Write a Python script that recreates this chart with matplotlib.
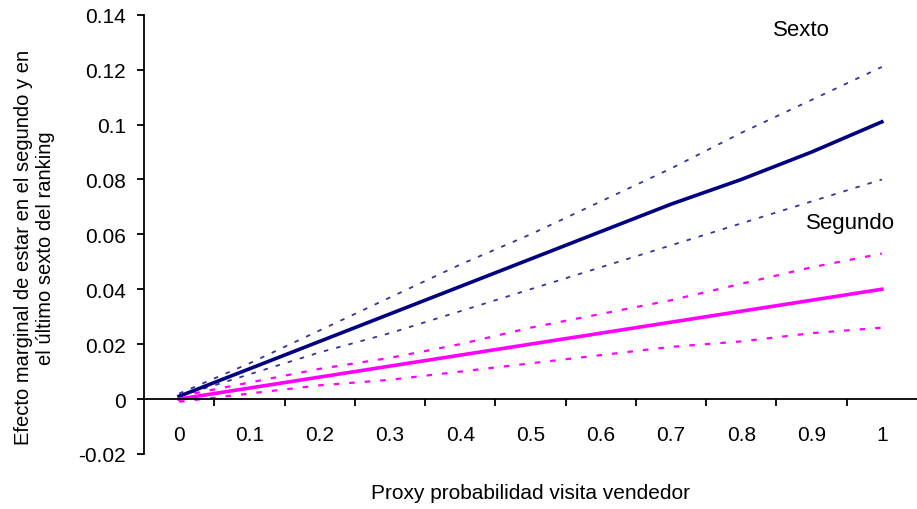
import numpy as np
import matplotlib.pyplot as plt

plt.rcParams['font.family'] = ['Liberation Sans', 'DejaVu Sans']

categorias = ['0', '0.1', '0.2', '0.3', '0.4', '0.5', '0.6', '0.7', '0.8', '0.9', '1']

# efecto marginal del último sexto y bandas de confianza
sexto = [0.001, 0.011, 0.021, 0.031, 0.041, 0.051, 0.061, 0.071, 0.080, 0.090, 0.101]
sexto_sup = [0.002, 0.013, 0.025, 0.037, 0.049, 0.060, 0.072, 0.084, 0.097, 0.109, 0.121]
sexto_inf = [0.001, 0.009, 0.017, 0.024, 0.032, 0.040, 0.048, 0.056, 0.064, 0.072, 0.080]

# efecto marginal del segundo sexto y bandas de confianza
segundo = [0.000, 0.004, 0.008, 0.012, 0.016, 0.020, 0.024, 0.028, 0.032, 0.036, 0.040]
segundo_sup = [0.001, 0.006, 0.011, 0.015, 0.020, 0.026, 0.031, 0.036, 0.042, 0.048, 0.053]
segundo_inf = [-0.001, 0.002, 0.005, 0.007, 0.010, 0.013, 0.016, 0.019, 0.021, 0.024, 0.026]

x = np.arange(len(categorias))

fig = plt.figure(figsize=(9.17, 5.10), dpi=100)
ax = fig.add_axes([0.157, 0.108, 0.843, 0.861])

punteado = (0, (2.5, 4.5))
ax.plot(x, sexto_sup, color='#333399', lw=1.3, linestyle=punteado)
ax.plot(x, sexto_inf, color='#333399', lw=1.3, linestyle=punteado)
ax.plot(x, segundo_sup, color='#FF00FF', lw=1.6, linestyle=punteado)
ax.plot(x, segundo_inf, color='#FF00FF', lw=1.6, linestyle=punteado)
ax.plot(x, sexto, color='#000080', lw=2.6)
ax.plot(x, segundo, color='#FF00FF', lw=2.6)

ax.set_xlim(-0.5, len(categorias) - 0.5)
ax.set_ylim(-0.02, 0.14)
ax.set_yticks(np.arange(-0.02, 0.141, 0.02))
ax.set_yticklabels(['-0.02', '0', '0.02', '0.04', '0.06', '0.08', '0.1', '0.12', '0.14'])

ax.spines['top'].set_visible(False)
ax.spines['right'].set_visible(False)
ax.spines['bottom'].set_position(('data', 0))
ax.spines['left'].set_linewidth(1.3)
ax.spines['bottom'].set_linewidth(1.3)

ax.set_xticks(x)
ax.set_xticklabels(categorias)
ax.set_xticks(x[:-1] + 0.5, minor=True)
ax.tick_params(axis='x', which='major', length=0, pad=19, labelsize=15)
ax.tick_params(axis='x', which='minor', length=5, width=1.3, direction='out')
ax.tick_params(axis='y', length=5, width=1.3, direction='out', labelsize=15, pad=8)

ax.text(8.85, 0.1345, 'Sexto', fontsize=16, ha='center', va='center')
ax.text(9.55, 0.0642, 'Segundo', fontsize=16, ha='center', va='center')

fig.text(0.578, 0.033, 'Proxy probabilidad visita vendedor', fontsize=15,
         ha='center', va='center')
fig.text(0.038, 0.514, 'Efecto marginal de estar en el segundo y en\nel último sexto del ranking',
         fontsize=14.5, ha='center', va='center', rotation=90, linespacing=1.2)

fig.savefig('out.png', dpi=100)
